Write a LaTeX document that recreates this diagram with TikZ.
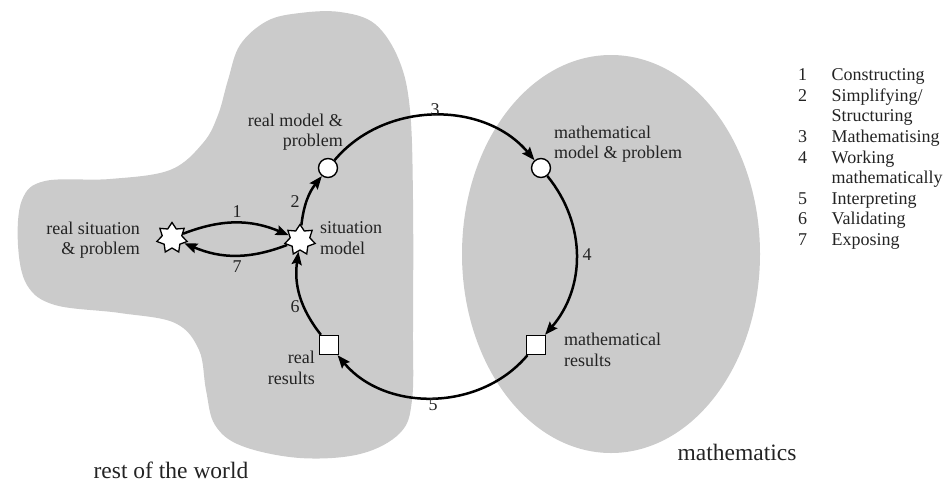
\documentclass[tikz,border=0pt]{standalone}
\usepackage{fontspec}
\setmainfont{Liberation Serif}
\usetikzlibrary{shapes.geometric,arrows.meta}
\definecolor{regiongray}{RGB}{203,203,203}
\definecolor{inkgray}{RGB}{35,35,35}
\begin{document}
\begin{tikzpicture}[x=1pt,y=-1pt,
  lbl/.style={font=\fontsize{18}{20.6}\selectfont, text=inkgray, inner sep=0pt},
  big/.style={font=\fontsize{23.5}{26}\selectfont, text=inkgray, inner sep=0pt},
  ring/.style={circle, draw, fill=white, line width=1.4pt, minimum size=19pt, inner sep=0pt},
  sq/.style={rectangle, draw, fill=white, line width=1.4pt, minimum size=19pt, inner sep=0pt},
  burst/.style={star, star points=7, star point ratio=1.55, draw, fill=white, line width=1.3pt, minimum size=31pt, inner sep=0pt},
  flow/.style={line width=2.5pt, -{Stealth[length=13pt,width=10pt,inset=2pt]}}]
\useasboundingbox (0,0) rectangle (949,482);

% regions
\fill[regiongray] plot[smooth cycle, tension=0.6] coordinates {
  (300,13) (267,21) (240,45) (228,80) (218,115) (203,143) (170,170) (110,179)
  (45,181) (22,200) (18,245) (27,285) (55,305) (120,313) (175,323) (199,350)
  (206,390) (215,425) (242,446) (300,458) (360,454) (400,433) (412,400)
  (413,330) (413,200) (410,110) (399,60) (375,24) (340,12)};
\fill[regiongray] (611,254) ellipse [x radius=149, y radius=199];

% nodes
\node[burst] (rs) at (172,238) {};
\node[burst] (sm) at (300,240) {};
\node[ring] (rm) at (328,168) {};
\node[ring] (mm) at (541,168) {};
\node[sq] (mr) at (536,345) {};
\node[sq] (rr) at (329,345) {};

% connectors
\draw[flow] (rs) to[bend left=22] (sm);
\draw[flow] (sm) to[bend left=22] (rs);
\draw[flow] (sm) to[bend left=16] (rm);
\draw[flow] (rm) to[bend left=50] (mm);
\draw[flow] (mm) to[bend left=40] (mr);
\draw[flow] (mr) to[bend left=50] (rr);
\draw[flow] (rr) to[bend left=23] (sm);

% labels
\node[lbl, anchor=east, align=right] (lrs) at (140,240) {real situation\\\& problem};
\node[lbl, anchor=west, align=left] (lsm) at (320,238) {situation\\model};
\node[lbl, anchor=east, align=right] (lrm) at (343,132) {real model \&\\problem};
\node[lbl, anchor=west, align=left] (lmm) at (554,144) {mathematical\\model \& problem};
\node[lbl, anchor=west, align=left] (lmr) at (564,350) {mathematical\\results};
\node[lbl, anchor=east, align=right] (lrr) at (315,368) {real\\results};

\node[lbl] (n1) at (237,212) {1};
\node[lbl] (n2) at (295,202) {2};
\node[lbl] (n3) at (435,110) {3};
\node[lbl] (n4) at (587,255) {4};
\node[lbl] (n5) at (433,405) {5};
\node[lbl] (n6) at (295,307) {6};
\node[lbl] (n7) at (237,267) {7};

\node[big] (world) at (171,470) {rest of the world};
\node[big] (maths) at (737,452) {mathematics};

% legend
\node[lbl, anchor=north west, align=left] (legend) at (798,66) {%
\begin{tabular}{@{}l@{\hspace{24.5pt}}l@{}}
1 & Constructing\\
2 & Simplifying/\\
  & Structuring\\
3 & Mathematising\\
4 & Working\\
  & mathematically\\
5 & Interpreting\\
6 & Validating\\
7 & Exposing
\end{tabular}};
\end{tikzpicture}
\end{document}
